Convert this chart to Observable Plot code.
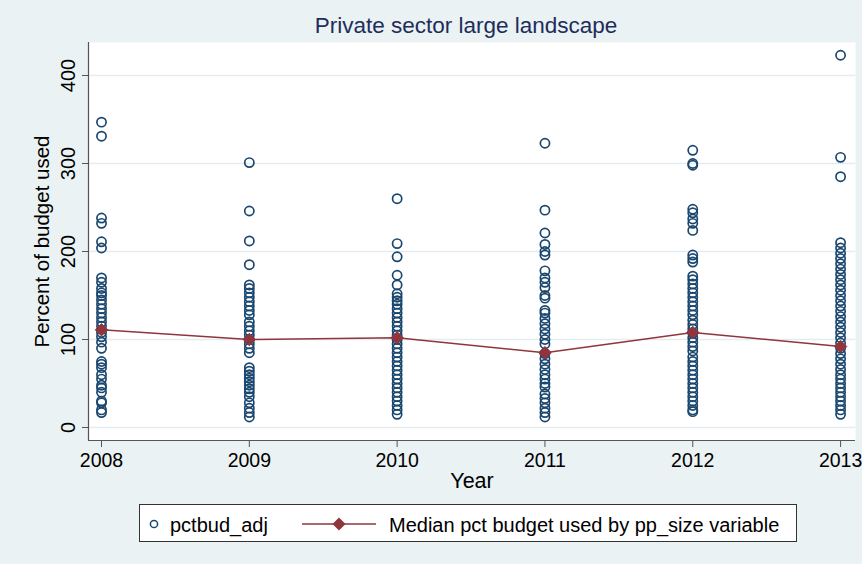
<!DOCTYPE html>
<html>
<head>
<meta charset="utf-8">
<script src="https://cdn.jsdelivr.net/npm/d3@7"></script>
<script src="https://cdn.jsdelivr.net/npm/@observablehq/plot@0.6"></script>
<style>
  html, body { margin: 0; padding: 0; background: #EAF2F3; }
  body { width: 862px; height: 564px; position: relative; font-family: "Liberation Sans", Arial, sans-serif; overflow: hidden; }
  #title { position: absolute; left: 0; top: 0; width: 862px; height: 42px; }
  #chart { position: absolute; left: 0; top: 42px; }
  #legend { position: absolute; left: 139px; top: 504px; width: 658px; height: 38px; background: #fff; border: 1px solid #333; box-sizing: border-box; }
</style>
</head>
<body>
<div id="title"></div>
<div id="chart"></div>
<div id="legend"></div>
<script>
const titleText = "Private sector large landscape";
const yTitle = "Percent of budget used";
const xTitle = "Year";
const seriesPoints = "pctbud_adj";
const seriesMedian = "Median pct budget used by pp_size variable";

const years = [2008, 2009, 2010, 2011, 2012, 2013];
const yTicks = [0, 100, 200, 300, 400];

const v2008 = [347, 331, 238, 232, 211, 204, 170, 165, 158, 153, 150, 145, 140, 135, 130, 125, 120, 115, 108, 103, 97, 90, 75, 72, 68, 60, 55, 48, 45, 40, 30, 28, 20, 17];
const v2009 = [301, 246, 212, 185, 162, 158, 153, 148, 143, 138, 133, 128, 120, 115, 110, 105, 100, 95, 90, 85, 68, 64, 60, 56, 52, 48, 44, 40, 35, 28, 22, 17, 12];
const v2010 = [260, 209, 194, 173, 162, 152, 148, 144, 140, 135, 130, 125, 120, 115, 110, 105, 100, 95, 90, 85, 80, 75, 70, 65, 60, 55, 50, 45, 40, 35, 30, 25, 20, 15];
const v2011 = [323, 247, 221, 208, 200, 196, 178, 170, 165, 159, 150, 147, 133, 130, 124, 118, 112, 106, 100, 95, 84, 78, 72, 66, 60, 55, 50, 46, 38, 33, 28, 22, 17, 12];
const v2012 = [315, 300, 298, 248, 244, 237, 232, 224, 196, 192, 188, 172, 168, 163, 158, 153, 148, 143, 138, 133, 128, 122, 117, 112, 107, 102, 97, 92, 87, 80, 75, 70, 65, 60, 55, 50, 45, 40, 35, 30, 25, 20, 18];
const v2013 = [423, 307, 285, 210, 204, 198, 192, 186, 180, 174, 168, 162, 156, 150, 144, 138, 132, 126, 120, 114, 108, 102, 96, 90, 84, 78, 72, 66, 60, 55, 50, 45, 40, 35, 30, 25, 20, 15];
const medians = [111, 100, 102, 85, 108, 92];

const byYear = [v2008, v2009, v2010, v2011, v2012, v2013];
const points = byYear.flatMap((vals, i) => vals.map(v => ({year: years[i], value: v})));
const medianData = years.map((y, i) => ({year: y, value: medians[i]}));

const navy = "#1a476f";
const maroon = "#90353b";
const font = "Liberation Sans, Arial, sans-serif";

// title
const tsv = d3.select("#title").append("svg").attr("width", 862).attr("height", 42);
tsv.append("text").attr("x", 466).attr("y", 33).attr("text-anchor", "middle")
  .attr("font-size", 22.5).attr("font-family", font).attr("fill", "#1e2d5a").text(titleText);

const chart = Plot.plot({
  width: 862,
  height: 458,
  marginLeft: 88,
  marginRight: 7,
  marginTop: 0,
  marginBottom: 60,
  style: {background: "transparent", fontFamily: font, fontSize: "16px", color: "#000"},
  x: {domain: [2007.912, 2013.101]},
  y: {domain: [-14.77, 437.5]},
  marks: [
    Plot.frame({fill: "white", stroke: "none"}),
    Plot.gridY(yTicks, {stroke: "#e4ecef", strokeOpacity: 1, strokeWidth: 1.5}),
    Plot.axisY(yTicks, {tickRotate: -90, tickSize: 6, tickPadding: 8, tickFormat: d => d, label: null, stroke: "#555", fontSize: 20, fontFamily: "Liberation Sans Narrow, Arial Narrow, Liberation Sans, sans-serif"}),
    Plot.text([yTitle], {frameAnchor: "left", dx: -46, rotate: -90, fontSize: 20.5, textAnchor: "middle"}),
    Plot.axisX(years, {tickSize: 7, tickPadding: 6, tickFormat: d => String(d), label: null, stroke: "#555", fontSize: 19.5}),
    Plot.text([xTitle], {frameAnchor: "bottom", dy: 47, fontSize: 21.5, textAnchor: "middle"}),
    Plot.ruleY([-14.77], {stroke: "#555", strokeWidth: 1.2}),
    Plot.ruleX([2007.912], {stroke: "#555", strokeWidth: 1.2}),
    Plot.dot(points, {x: "year", y: "value", r: 4.6, stroke: navy, strokeWidth: 1.7, fill: "none"}),
    Plot.line(medianData, {x: "year", y: "value", stroke: maroon, strokeWidth: 1.5}),
    Plot.dot(medianData, {x: "year", y: "value", symbol: "diamond2", r: 5.6, fill: maroon, stroke: maroon, strokeWidth: 1})
  ]
});
document.getElementById("chart").appendChild(chart);

// legend
const leg = d3.select("#legend").append("svg").attr("width", 658).attr("height", 38);
leg.append("circle").attr("cx", 14).attr("cy", 19).attr("r", 3.6).attr("fill", "none").attr("stroke", navy).attr("stroke-width", 1.5);
leg.append("text").attr("x", 30).attr("y", 27).attr("font-size", 20).attr("font-family", font).text(seriesPoints);
leg.append("line").attr("x1", 162).attr("x2", 236).attr("y1", 19).attr("y2", 19).attr("stroke", maroon).attr("stroke-width", 1.5);
leg.append("path").attr("d", "M199,12.5L205.5,19L199,25.5L192.5,19Z").attr("fill", maroon);
leg.append("text").attr("x", 249).attr("y", 27).attr("font-size", 20).attr("font-family", font).text(seriesMedian);
</script>
</body>
</html>
